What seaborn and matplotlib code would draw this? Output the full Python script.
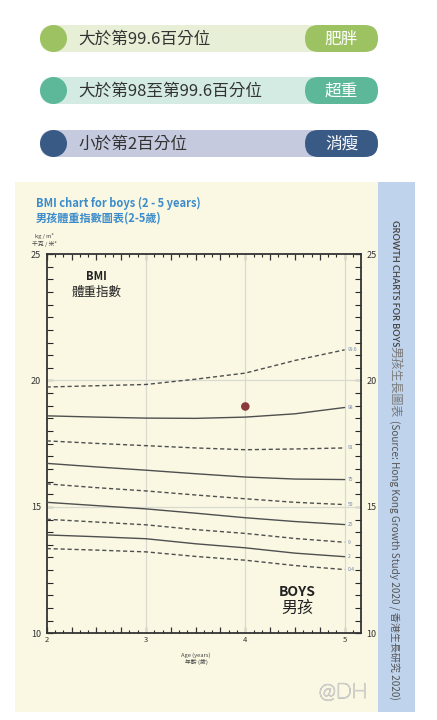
import numpy as np
import pandas as pd
import matplotlib
matplotlib.use("Agg")
import matplotlib.pyplot as plt
import matplotlib.patheffects as pe
from matplotlib.patches import FancyBboxPatch, Rectangle, Circle
from matplotlib.ticker import MultipleLocator, FixedLocator, FuncFormatter
import seaborn as sns

# ---------------- data ----------------
ages = [2.0, 2.5, 3.0, 3.5, 4.0, 4.5, 5.0]
p99_6 = [19.74, 19.79, 19.84, 20.05, 20.29, 20.79, 21.21]
p98 = [18.60, 18.55, 18.51, 18.50, 18.55, 18.68, 18.93]
p91 = [17.61, 17.51, 17.42, 17.33, 17.26, 17.29, 17.33]
p75 = [16.72, 16.58, 16.45, 16.31, 16.18, 16.10, 16.08]
p50 = [15.91, 15.76, 15.63, 15.47, 15.32, 15.18, 15.09]
p25 = [15.18, 15.05, 14.92, 14.75, 14.57, 14.42, 14.30]
p9 = [14.51, 14.40, 14.29, 14.10, 13.95, 13.75, 13.60]
p2 = [13.89, 13.82, 13.74, 13.54, 13.38, 13.17, 13.03]
p0_4 = [13.35, 13.29, 13.22, 13.04, 12.89, 12.68, 12.52]
pct_labels = ["99.6", "98", "91", "75", "50", "25", "9", "2", "0.4"]
pct_values = [p99_6, p98, p91, p75, p50, p25, p9, p2, p0_4]
dashed_pcts = ["99.6", "91", "50", "9", "0.4"]

child_age = [4.0]
child_bmi = [18.97]

legend_texts = ["大於第99.6百分位", "大於第98至第99.6百分位", "小於第2百分位"]
legend_tags = ["肥胖", "超重", "消瘦"]

# ---------------- style ----------------
sns.set_theme(style="white")
plt.rcParams["font.family"] = ["Noto Sans CJK TC", "DejaVu Sans"]

W, H = 437, 720
fig = plt.figure(figsize=(W / 100, H / 100), dpi=100)
fig.patch.set_facecolor("white")

bg = fig.add_axes([0, 0, 1, 1])
bg.set_xlim(0, W)
bg.set_ylim(H, 0)
bg.axis("off")

# legend bars at top
bar_cols = [("#9CC262", "#E7EFD6"), ("#5CB899", "#D3EBE2"), ("#3A5A86", "#C6CADF")]
bar_y = [25, 77, 130]
bh = 27
for i, (txt, tag) in enumerate(zip(legend_texts, legend_tags)):
    dark, light = bar_cols[i]
    y0 = bar_y[i]
    bg.add_patch(FancyBboxPatch((40, y0), 378 - 40, bh,
                                boxstyle=f"round,pad=0,rounding_size={bh/2}",
                                fc=light, ec="none"))
    bg.add_patch(Circle((40 + bh / 2, y0 + bh / 2), bh / 2, fc=dark, ec="none"))
    bg.add_patch(FancyBboxPatch((305, y0), 378 - 305, bh,
                                boxstyle=f"round,pad=0,rounding_size={bh/2}",
                                fc=dark, ec="none"))
    bg.text(78, y0 + bh / 2 + 0.5, txt, fontsize=12, color="#333333",
            ha="left", va="center")
    bg.text(341.5, y0 + bh / 2 + 0.5, tag, fontsize=12, color="white",
            ha="center", va="center")

# chart panel
bg.add_patch(Rectangle((15, 182), 378 - 15, 712 - 182, fc="#FAF8E3", ec="none"))
bg.add_patch(Rectangle((378, 182), 415 - 378, 712 - 182, fc="#BFD3EC", ec="none"))

bg.text(36, 203, "BMI chart for boys (2 - 5 years)", fontsize=8, fontweight="bold",
        color="#3C8CCB", ha="left", va="center")
bg.text(36, 218, "男孩體重指數圖表(2-5歲)", fontsize=8, fontweight="bold",
        color="#3C8CCB", ha="left", va="center")
bg.text(44, 236, "kg / m²", fontsize=4.2, color="#444444", ha="center", va="center")
bg.text(44, 244, "千克 / 米²", fontsize=4.2, color="#444444", ha="center", va="center")

bg.text(196, 655, "Age (years)", fontsize=4.2, color="#444444", ha="center", va="center")
bg.text(196, 662, "年齡 (歲)", fontsize=4.2, color="#444444", ha="center", va="center")

bg.text(343, 692, "@DH", fontsize=15, color="#F4F4EF", ha="center", va="center",
        family=["Lato", "DejaVu Sans"], fontweight="light",
        path_effects=[pe.withStroke(linewidth=0.9, foreground="#C4C4C0")])

# vertical strip texts
bg.text(394, 220, "GROWTH CHARTS FOR BOYS", rotation=-90, fontsize=6.5, fontweight="bold",
        family=["Lato", "DejaVu Sans"], color="#4A4A4A", ha="center", va="top")
bg.text(394, 346, "男孩生長圖表", rotation=-90, fontsize=8.6,
        color="#7A7A7A", ha="center", va="top")
bg.text(394, 420, "(Source: Hong Kong Growth Study 2020 / 香港生長研究 2020)", rotation=-90,
        fontsize=7.2, color="#555555", ha="center", va="top")

# ---------------- main chart ----------------
left, right, top, bottom = 46.7, 361, 254, 633.3
ax = fig.add_axes([left / W, 1 - bottom / H, (right - left) / W, (bottom - top) / H])
ax.set_facecolor("#FAF8E3")

rows = []
for lab, vals in zip(pct_labels, pct_values):
    for a, v in zip(ages, vals):
        rows.append({"age": a, "bmi": v, "pct": lab})
df = pd.DataFrame(rows)

dashes = {lab: ((3, 2) if lab in dashed_pcts else "") for lab in pct_labels}
palette = {lab: "#4F4F4F" for lab in pct_labels}
sns.lineplot(data=df, x="age", y="bmi", hue="pct", style="pct", dashes=dashes,
             palette=palette, linewidth=1.0, legend=False, ax=ax, zorder=3)
sns.scatterplot(x=child_age, y=child_bmi, color="#8A3A3A", s=38, edgecolor="none",
                ax=ax, zorder=5)

for lab, vals in zip(pct_labels, pct_values):
    ax.text(ages[-1] + 0.03, vals[-1], lab, fontsize=3.6, color="#7083AD",
            ha="left", va="center", zorder=4)

for xv in [3, 4, 5]:
    ax.axvline(xv, color="#D9D9D2", lw=0.9, zorder=1)
for yv in [15, 20]:
    ax.axhline(yv, color="#D9D9D2", lw=0.9, zorder=1)

ax.set_xlim(2, 5.165)
ax.set_ylim(10, 25)
ax.set_xlabel("")
ax.set_ylabel("")

ax.xaxis.set_major_locator(MultipleLocator(0.25))
ax.xaxis.set_minor_locator(MultipleLocator(1 / 12))
ax.xaxis.set_major_formatter(FuncFormatter(
    lambda v, p: f"{int(round(v))}" if abs(v - round(v)) < 1e-6 else ""))
ax.yaxis.set_major_locator(FixedLocator([10, 15, 20, 25]))
ax.yaxis.set_minor_locator(MultipleLocator(0.5))

ax.tick_params(axis="x", which="major", direction="in", length=4, width=0.9,
               top=True, bottom=True, labelsize=5.5, pad=2, colors="#333333")
ax.tick_params(axis="x", which="minor", direction="in", length=2.5, width=0.8,
               top=True, bottom=True)
ax.tick_params(axis="y", which="major", direction="in", length=4, width=0.9,
               left=True, right=True, labelleft=True, labelright=True,
               labelsize=6.5, pad=4, colors="#333333")
ax.tick_params(axis="y", which="minor", direction="in", length=4, width=0.8,
               left=True, right=True)
for s in ax.spines.values():
    s.set_color("#333333")
    s.set_linewidth(1.3)
    s.set_visible(True)

ax.text(2.5, 24.1, "BMI", fontsize=8, fontweight="bold", color="#222222",
        ha="center", va="center")
ax.text(2.5, 23.5, "體重指數", fontsize=9, color="#222222", ha="center", va="center")
ax.text(4.52, 11.65, "BOYS", fontsize=10, fontweight="bold", color="#222222",
        ha="center", va="center")
ax.text(4.52, 11.0, "男孩", fontsize=11.5, color="#222222", ha="center", va="center")

fig.savefig("out.png", dpi=100)
